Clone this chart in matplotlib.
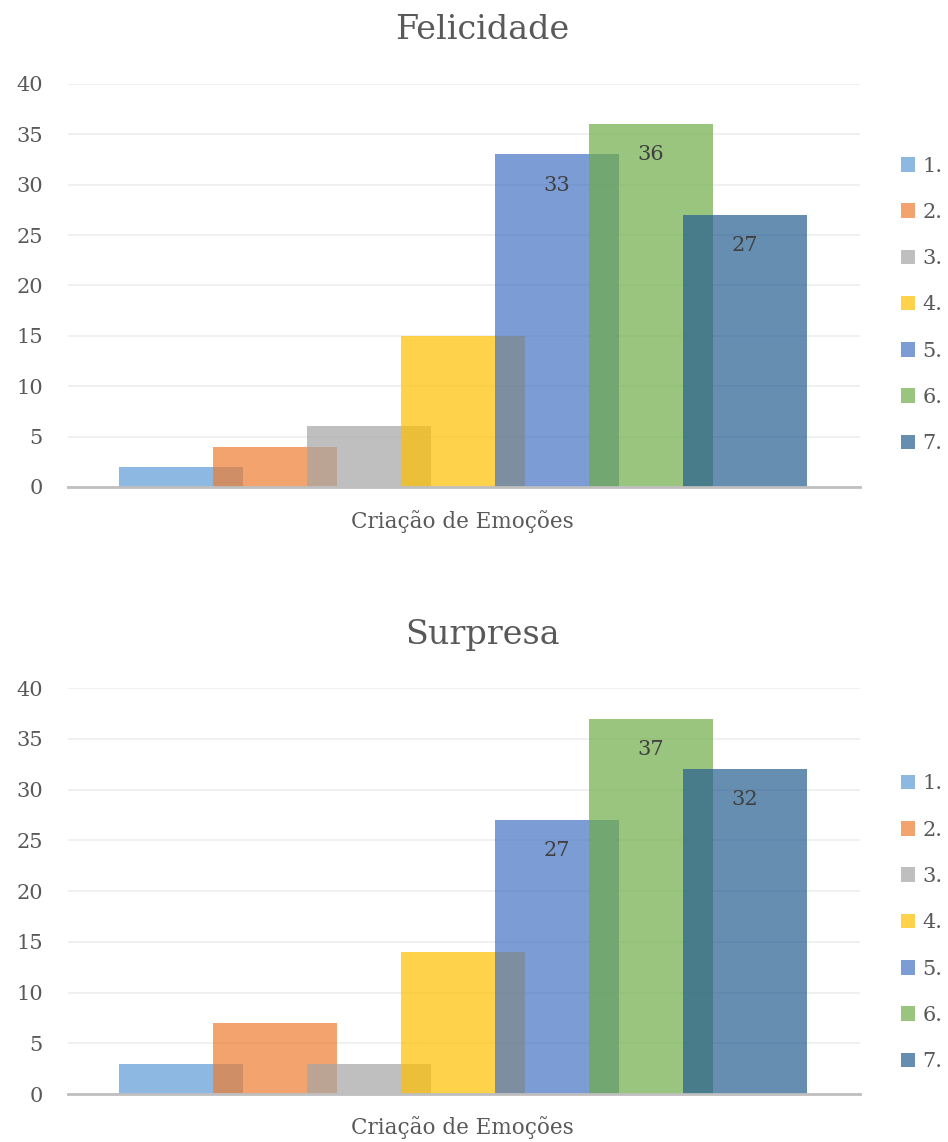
"""Two Excel-style overlapped bar charts: Felicidade and Surpresa."""

import matplotlib

matplotlib.use("Agg")
import matplotlib.pyplot as plt
from matplotlib.patches import Patch

SERIES = ["1.", "2.", "3.", "4.", "5.", "6.", "7."]
COLORS = ["#5B9BD5", "#ED7D31", "#A5A5A5", "#FFC000", "#4472C4", "#70AD47", "#255E91"]
FELICIDADE = [2, 4, 6, 15, 33, 36, 27]
SURPRESA = [3, 7, 3, 14, 27, 37, 32]
LABELLED = [4, 5, 6]  # only the tall bars carry value labels
CATEGORY = "Criação de Emoções"
YTICKS = [0, 5, 10, 15, 20, 25, 30, 35, 40]

TEXT = "#595959"
plt.rcParams["font.family"] = ["DejaVu Serif"]

fig = plt.figure(figsize=(9.48, 11.42), dpi=100)

panels = [
    ("Felicidade", FELICIDADE, [0.0717, 0.5736, 0.835, 0.3529], 0.974, 0.543, 0.733),
    ("Surpresa", SURPRESA, [0.0717, 0.0420, 0.835, 0.3555], 0.444, 0.0123, 0.192),
]

for title, values, rect, ty, xy, ly in panels:
    ax = fig.add_axes(rect)
    for i, (v, c) in enumerate(zip(values, COLORS)):
        ax.bar(i, v, width=1.32, color=c, alpha=0.7, linewidth=0, zorder=2 + i)
        if i in LABELLED:
            ax.annotate(str(v), (i, v), xytext=(0, -22), textcoords="offset points",
                        ha="center", va="center", fontsize=15, color="#404040",
                        zorder=20)
    ax.set_xlim(-1.2, 7.22)
    ax.set_ylim(0, 40)
    ax.set_yticks(YTICKS)
    ax.set_xticks([])
    ax.tick_params(axis="y", length=0, pad=18, labelsize=15, labelcolor=TEXT)
    ax.grid(axis="y", color="#EEEEEE", linewidth=1.2, zorder=0)
    for side in ("top", "right", "left"):
        ax.spines[side].set_visible(False)
    ax.spines["bottom"].set_color("#BFBFBF")
    ax.spines["bottom"].set_linewidth(2)
    ax.spines["bottom"].set_zorder(30)

    fig.text(0.509, ty, title, ha="center", va="center", fontsize=24, color=TEXT)
    fig.text(0.488, xy, CATEGORY, ha="center", va="center", fontsize=15.5, color=TEXT)

    handles = [Patch(facecolor=c, alpha=0.7, linewidth=0) for c in COLORS]
    fig.legend(handles, SERIES, loc="center left", bbox_to_anchor=(0.950, ly),
               frameon=False, fontsize=15, labelcolor=TEXT, handlelength=0.7,
               handleheight=0.7, handletextpad=0.35, labelspacing=1.31,
               borderaxespad=0, borderpad=0)

fig.savefig("out.png", dpi=100)
